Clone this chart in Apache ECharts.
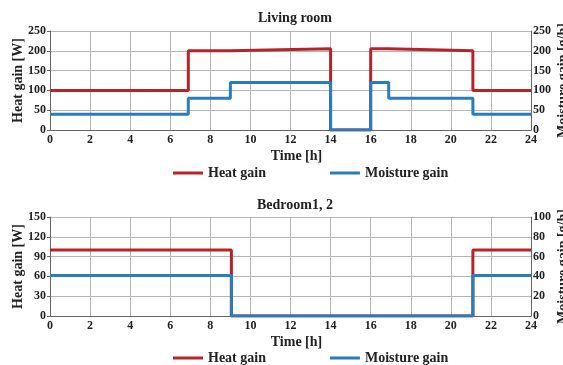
<!DOCTYPE html>
<html><head><meta charset="utf-8">
<script src="https://cdn.jsdelivr.net/npm/echarts@6/dist/echarts.min.js"></script>
<style>html,body{margin:0;padding:0;background:#fff}#c{width:563px;height:365px}</style>
</head><body><div id="c"></div>
<script>
// Living room (value holds from each x until the next x)
const livingHeatX = [0, 6.9, 9, 14, 16, 16.9, 21.1, 24];
const livingHeatY = [100, 200, 205, 0, 205, 200, 100, 100];
const livingMoistX = [0, 6.9, 9, 14, 16, 16.9, 21.1, 24];
const livingMoistY = [40, 80, 120, 0, 120, 80, 40, 40];
// Bedroom 1, 2
const bedHeatX = [0, 9.05, 21.1, 24];
const bedHeatY = [100, 0, 100, 100];
const bedMoistX = [0, 9.05, 21.1, 24];
const bedMoistY = [41, 0, 41, 41];
const titles = ['Living room', 'Bedroom1, 2'];
const seriesNames = ['Heat gain', 'Moisture gain'];

const FONT = 'Liberation Serif';
const RED = '#b82329';
const BLUE = '#2a7dbd';
// build step path: horizontal to next x, then vertical
function stepPairs(xs, ys) {
  const out = [];
  for (let i = 0; i < xs.length; i++) {
    if (i > 0) out.push([xs[i], ys[i - 1]]);
    out.push([xs[i], ys[i]]);
  }
  return out;
}

const txt = {fontFamily: FONT, fontWeight: 'bold', color: '#222', fontSize: 12};
function xAx(gi) {
  return {
    type: 'value', gridIndex: gi, min: 0, max: 24, interval: 2,
    name: 'Time [h]', nameLocation: 'middle', nameGap: 19, nameMoveOverlap: false,
    nameTextStyle: Object.assign({}, txt, {fontSize: 14, padding: [0, 0, 0, 12]}),
    axisLabel: Object.assign({}, txt, {fontSize: 12, margin: 4}),
    axisLine: {lineStyle: {color: '#666', width: 1}},
    axisTick: {show: false},
    splitLine: {show: true, lineStyle: {color: '#b5b5b5', width: 1}}
  };
}
function yAx(gi, pos, max, interval, name, nameGap) {
  return {
    type: 'value', gridIndex: gi, position: pos, min: 0, max: max, interval: interval,
    name: name, nameLocation: 'middle', nameGap: nameGap, nameRotate: 90, nameMoveOverlap: false,
    nameTextStyle: Object.assign({}, txt, {fontSize: 14}),
    axisLabel: Object.assign({}, txt, {fontSize: 12, margin: pos === 'left' ? 4 : 2}),
    axisLine: {show: true, lineStyle: {color: '#666', width: 1}},
    axisTick: {show: pos === 'left', length: 3, lineStyle: {color: '#666'}},
    splitLine: {show: pos === 'left', lineStyle: {color: '#b5b5b5', width: 1}}
  };
}
function line(name, data, xi, yi, color) {
  return {
    name: name, type: 'line', xAxisIndex: xi, yAxisIndex: yi,
    data: data, symbol: 'none', lineStyle: {color: color, width: 3}, itemStyle: {color: color},
    animation: false
  };
}
const legendBase = {
  icon: 'rect', itemWidth: 30, itemHeight: 3, itemGap: 64,
  textStyle: Object.assign({}, txt, {fontSize: 14}), data: seriesNames
};

const chart = echarts.init(document.getElementById('c'), null, {renderer: 'canvas'});
chart.setOption({
  animation: false,
  title: [
    {text: titles[0], left: 290, top: 6, textAlign: 'center', textStyle: Object.assign({}, txt, {fontSize: 14})},
    {text: titles[1], left: 290, top: 193, textAlign: 'center', textStyle: Object.assign({}, txt, {fontSize: 14})}
  ],
  grid: [
    {left: 50, right: 32, top: 31, height: 99, outerBoundsMode: 'none', containLabel: false},
    {left: 50, right: 32, top: 217, height: 99, outerBoundsMode: 'none', containLabel: false}
  ],
  legend: [
    Object.assign({}, legendBase, {left: 168, top: 161}),
    Object.assign({}, legendBase, {left: 168, top: 346})
  ],
  xAxis: [xAx(0), xAx(1)],
  yAxis: [
    yAx(0, 'left', 250, 50, 'Heat gain [W]', 25),
    yAx(0, 'right', 250, 50, 'Moisture gain [g/h]', 25),
    yAx(1, 'left', 150, 30, 'Heat gain [W]', 25),
    yAx(1, 'right', 100, 20, 'Moisture gain [g/h]', 25)
  ],
  series: [
    line(seriesNames[0], stepPairs(livingHeatX, livingHeatY), 0, 0, RED),
    line(seriesNames[1], stepPairs(livingMoistX, livingMoistY), 0, 1, BLUE),
    line(seriesNames[0], stepPairs(bedHeatX, bedHeatY), 1, 2, RED),
    line(seriesNames[1], stepPairs(bedMoistX, bedMoistY), 1, 3, BLUE)
  ]
});
</script></body></html>
